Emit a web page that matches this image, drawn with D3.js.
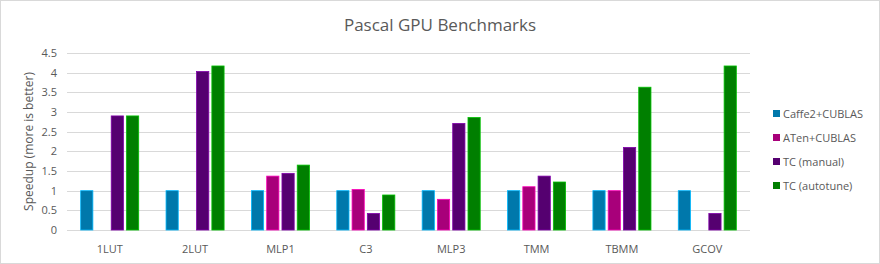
<!DOCTYPE html>
<html>
<head>
<meta charset="utf-8">
<script src="https://cdn.jsdelivr.net/npm/d3@7"></script>
<style>
  body { margin: 0; background: #fff; }
  text { font-family: "Open Sans", "Liberation Sans", sans-serif; fill: #595959; }
</style>
</head>
<body>
<div id="chart"></div>
<script>
// benchmarks on the x axis
var categories = ["1LUT", "2LUT", "MLP1", "C3", "MLP3", "TMM", "TBMM", "GCOV"];
var seriesNames = ["Caffe2+CUBLAS", "ATen+CUBLAS", "TC (manual)", "TC (autotune)"];
// null = no bar
var caffe2 = [1, 1, 1, 1, 1, 1, 1, 1];
var aten = [null, null, 1.37, 1.03, 0.78, 1.1, 1, null];
var tcManual = [2.9, 4.03, 1.44, 0.42, 2.71, 1.37, 2.1, 0.42];
var tcAutotune = [2.9, 4.17, 1.65, 0.89, 2.86, 1.22, 3.63, 4.17];
var yTicks = [0, 0.5, 1, 1.5, 2, 2.5, 3, 3.5, 4, 4.5];
var colors = ["#0078ab", "#a8007a", "#550070", "#007f00"];

var allSeries = [caffe2, aten, tcManual, tcAutotune];

var width = 880, height = 264;
// plot area (note: "top" is taken by window.top, so prefix these)
var plotLeft = 67, plotRight = 750, plotTop = 53, plotBottom = 230;

var svg = d3.select("#chart")
  .append("svg")
  .attr("width", width)
  .attr("height", height);

// outer frame
svg.append("rect")
  .attr("x", 0.5).attr("y", 0.5)
  .attr("width", width - 1).attr("height", height - 1)
  .attr("fill", "#fff")
  .attr("stroke", "#d9d9d9");

var x = d3.scaleBand()
  .domain(categories)
  .range([plotLeft, plotRight])
  .paddingInner(0.32)
  .paddingOuter(0.16);

var xInner = d3.scaleBand()
  .domain(d3.range(seriesNames.length))
  .range([0, x.bandwidth()])
  .paddingInner(0.2);

var y = d3.scaleLinear()
  .domain([0, 4.5])
  .range([plotBottom, plotTop]);

// gridlines
svg.append("g")
  .selectAll("line")
  .data(yTicks)
  .enter()
  .append("line")
  .attr("x1", plotLeft)
  .attr("x2", plotRight)
  .attr("y1", d => Math.round(y(d)) + 0.5)
  .attr("y2", d => Math.round(y(d)) + 0.5)
  .attr("stroke", "#d9d9d9")
  .attr("stroke-width", 1);

// y tick labels
svg.append("g")
  .selectAll("text")
  .data(yTicks)
  .enter()
  .append("text")
  .attr("x", 57)
  .attr("y", d => y(d) + 4)
  .attr("text-anchor", "end")
  .style("font-size", "11px")
  .text(d => d);

// bars
var groups = svg.append("g")
  .selectAll("g")
  .data(allSeries)
  .enter()
  .append("g");

groups.selectAll("rect")
  .data((vals, s) => vals.map((v, i) => ({ v: v, i: i, s: s })).filter(d => d.v != null))
  .enter()
  .append("rect")
  .attr("x", d => x(categories[d.i]) + xInner(d.s))
  .attr("y", d => y(d.v))
  .attr("width", xInner.bandwidth())
  .attr("height", d => y(0) - y(d.v))
  .attr("fill", d => colors[d.s])
  .attr("stroke", d => d3.color(colors[d.s]).brighter(1.2))
  .attr("stroke-width", 0.8);

// x labels
svg.append("g")
  .selectAll("text")
  .data(categories)
  .enter()
  .append("text")
  .attr("x", d => x(d) + x.bandwidth() / 2)
  .attr("y", 253)
  .attr("text-anchor", "middle")
  .style("font-size", "11px")
  .text(d => d);

// title
svg.append("text")
  .attr("x", 440)
  .attr("y", 31)
  .attr("text-anchor", "middle")
  .style("font-size", "17px")
  .text("Pascal GPU Benchmarks");

// y axis title
svg.append("text")
  .attr("transform", "translate(33," + ((plotTop + plotBottom) / 2) + ") rotate(-90)")
  .attr("text-anchor", "middle")
  .style("font-size", "12px")
  .text("Speedup (more is better)");

// legend
var legend = svg.append("g")
  .selectAll("g")
  .data(seriesNames)
  .enter()
  .append("g")
  .attr("transform", (d, i) => "translate(773," + (110 + i * 24) + ")");

legend.append("rect")
  .attr("width", 7)
  .attr("height", 7)
  .attr("fill", (d, i) => colors[i]);

legend.append("text")
  .attr("x", 10)
  .attr("y", 7.5)
  .style("font-size", "11px")
  .text(d => d);
</script>
</body>
</html>
